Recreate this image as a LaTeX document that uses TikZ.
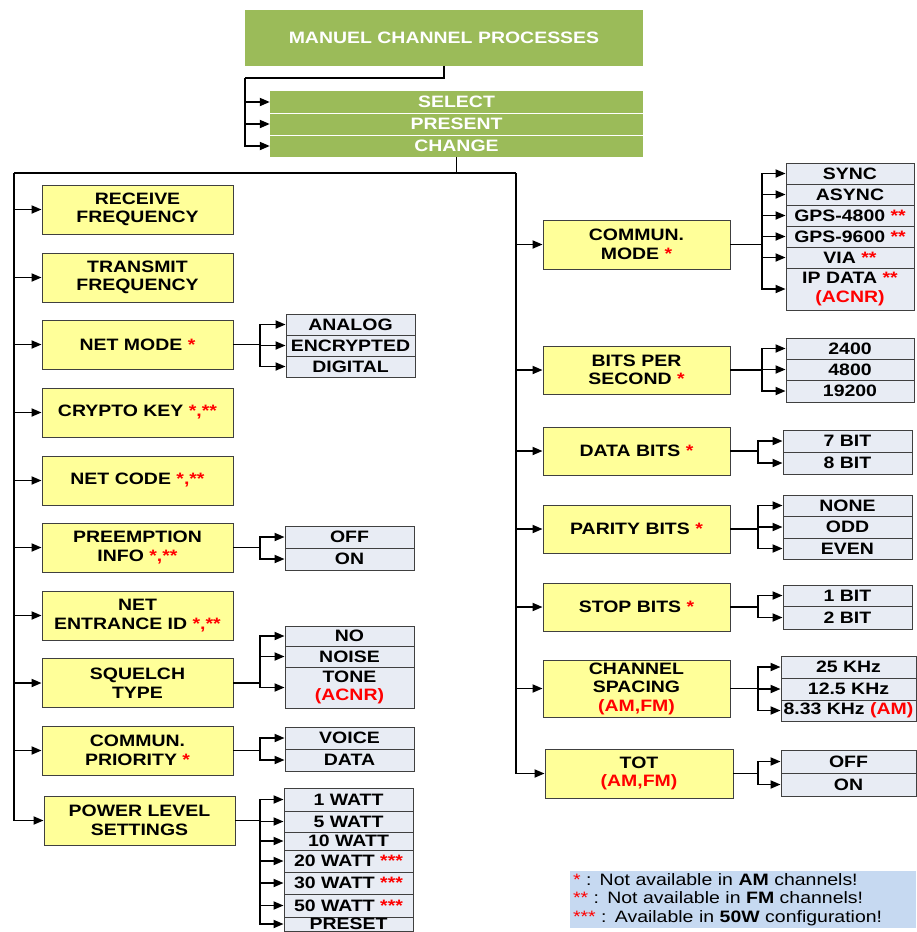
\documentclass[tikz,border=0pt]{standalone}
\usepackage{fontspec}
\setmainfont[FakeStretch=1.18]{Liberation Sans}
\usetikzlibrary{arrows.meta}
\definecolor{gr}{HTML}{9BBB59}
\definecolor{yl}{HTML}{FFFF99}
\definecolor{op}{HTML}{E8ECF4}
\definecolor{bd}{HTML}{404040}
\definecolor{lgd}{HTML}{C6D9F1}
\definecolor{rdc}{HTML}{FF0000}
\newcommand\rd[1]{\textcolor{rdc}{#1}}
\begin{document}
\begin{tikzpicture}[x=1pt,y=-1pt,
  every node/.style={font=\fontsize{16.5}{18.5}\selectfont\bfseries, inner sep=0pt, align=center},
  gbox/.style={fill=gr, text=white, minimum width=373pt, minimum height=22pt},
  gsep/.style={draw=white, line width=1pt},
  ybox/.style={draw=bd, fill=yl, line width=0.9pt, minimum height=49pt},
  yL/.style={ybox, minimum width=191pt},
  yR/.style={ybox, minimum width=187pt},
  obox/.style={draw=bd, fill=op, line width=0.9pt, minimum height=21pt},
  oL/.style={obox, minimum width=129pt},
  oR/.style={obox, minimum width=128pt},
  oS/.style={obox, minimum width=135pt},
  line/.style={draw=black, line width=1.8pt},
  arr/.style={line, -{Triangle[length=10pt,width=8pt]}},
  legend/.style={fill=lgd, font=\fontsize{16.5}{18.5}\selectfont\mdseries, align=left, text width=340pt, inner xsep=3pt, minimum height=57pt},
]
\useasboundingbox (0,0) rectangle (916,932);

% title and green bars
\node[fill=gr, text=white, minimum width=398pt, minimum height=56pt] (title) at (444,38) {MANUEL CHANNEL PROCESSES};
\node[gbox] (select) at (456.5,102) {SELECT};
\node[gbox] (present) at (456.5,124) {PRESENT};
\node[gbox] (change) at (456.5,146) {CHANGE};
\draw[gsep] (select.south west) -- (select.south east);
\draw[gsep] (present.south west) -- (present.south east);

\coordinate (tb) at (245,78);
\draw[line] (title.south) |- (tb);
\draw[arr] (tb) |- (select.west);
\draw[arr] (tb) |- (present.west);
\draw[arr] (tb) |- (change.west);

% trunks
\coordinate (tl) at (14,173);
\coordinate (tr) at (516,173);
\draw[line] (change.south) -- (change.south |- tl);
\draw[line] (tl) -- (tr);

% left yellow boxes
\node[yL] (rf) at (137.5,209.5) {RECEIVE\\FREQUENCY};
\node[yL] (tf) at (137.5,277.5) {TRANSMIT\\FREQUENCY};
\node[yL] (nm) at (137.5,344.5) {NET MODE \rd{*}};
\node[yL] (ck) at (137.5,412.5) {CRYPTO KEY \rd{*,**}};
\node[yL] (nc) at (137.5,480.5) {NET CODE \rd{*,**}};
\node[yL] (pi) at (137.5,547.5) {PREEMPTION\\INFO \rd{*,**}};
\node[yL] (ne) at (137.5,615.5) {NET\\ENTRANCE ID \rd{*,**}};
\node[yL] (sq) at (137.5,683) {SQUELCH\\TYPE};
\node[yL] (cp) at (137.5,750.5) {COMMUN.\\PRIORITY \rd{*}};
\node[yL] (pl) at (139.5,820.5) {POWER LEVEL\\SETTINGS};

\foreach \n in {rf,tf,nm,ck,nc,pi,ne,sq,cp} \draw[arr] (tl |- \n.west) -- (\n.west);
\draw[arr] (tl) |- (pl.west);

% left options
\coordinate (bxL) at (260,0);
\node[oL] (analog) at (350.5,324.5) {ANALOG};
\node[oL] (encr) at (350.5,345.5) {ENCRYPTED};
\node[oL] (digital) at (350.5,366.5) {DIGITAL};
\draw[line] (nm.east) -- (nm.east -| bxL);
\foreach \n in {analog,encr,digital} \draw[arr] (nm.east -| bxL) |- (\n.west);

\node[oL, minimum height=22pt] (pioff) at (349.5,537) {OFF};
\node[oL, minimum height=22pt] (pion) at (349.5,559) {ON};
\draw[line] (pi.east) -- (pi.east -| bxL);
\foreach \n in {pioff,pion} \draw[arr] (pi.east -| bxL) |- (\n.west);

\node[oL, minimum height=20pt] (sqno) at (349.5,636) {NO};
\node[oL] (sqnoise) at (349.5,656.5) {NOISE};
\node[oL, minimum height=41pt] (sqtone) at (349.5,687.5) {TONE\\\rd{(ACNR)}};
\draw[line] (sq.east) -- (sq.east -| bxL);
\draw[arr] (sq.east -| bxL) |- (sqno.west);
\draw[arr] (sq.east -| bxL) |- (sqnoise.west);
\draw[arr] (sq.east -| bxL) |- (sqtone.west);

\node[oL, minimum height=22pt] (voice) at (349.5,738) {VOICE};
\node[oL, minimum height=22pt] (data) at (349.5,760) {DATA};
\draw[line] (cp.east) -- (cp.east -| bxL);
\foreach \n in {voice,data} \draw[arr] (cp.east -| bxL) |- (\n.west);

\node[oL, minimum height=23pt] (w1) at (348.5,799.5) {1 WATT};
\node[oL, minimum height=21pt] (w5) at (348.5,821.5) {5 WATT};
\node[oL, minimum height=18pt] (w10) at (348.5,841) {10 WATT};
\node[oL, minimum height=22pt] (w20) at (348.5,861) {20 WATT \rd{***}};
\node[oL, minimum height=22pt] (w30) at (348.5,883) {30 WATT \rd{***}};
\node[oL, minimum height=23pt] (w50) at (348.5,905.5) {50 WATT \rd{***}};
\node[oL, minimum height=14pt] (preset) at (348.5,924) {PRESET};
\draw[line] (pl.east) -- (pl.east -| bxL);
\foreach \n in {w1,w5,w10,w20,w30,w50,preset} \draw[arr] (pl.east -| bxL) |- (\n.west);

% right yellow boxes
\node[yR] (cm) at (636.5,244.5) {COMMUN.\\MODE \rd{*}};
\node[yR, minimum height=48pt] (bps) at (636.5,370) {BITS PER\\SECOND \rd{*}};
\node[yR, minimum height=48pt] (db) at (636.5,451) {DATA BITS \rd{*}};
\node[yR, minimum height=48pt] (pb) at (636.5,529) {PARITY BITS \rd{*}};
\node[yR, minimum height=48pt] (sb) at (636.5,607) {STOP BITS \rd{*}};
\node[yR, minimum height=57pt] (cs) at (636.5,688.5) {CHANNEL\\SPACING\\\rd{(AM,FM)}};
\node[yR, minimum width=188pt] (tot) at (639,773.5) {TOT\\\rd{(AM,FM)}};

\foreach \n in {cm,bps,db,pb,sb,cs} \draw[arr] (tr |- \n.west) -- (\n.west);
\draw[arr] (tr) |- (tot.west);

% right options
\coordinate (bxR) at (762,0);
\coordinate (bxS) at (758,0);
\node[oR] (sync) at (850,173.5) {SYNC};
\node[oR] (async) at (850,194.5) {ASYNC};
\node[oR] (g48) at (850,215.5) {GPS-4800 \rd{**}};
\node[oR] (g96) at (850,236.5) {GPS-9600 \rd{**}};
\node[oR] (via) at (850,257.5) {VIA \rd{**}};
\node[oR, minimum height=42pt] (ipd) at (850,289) {IP DATA \rd{**}\\\rd{(ACNR)}};
\draw[line] (cm.east) -- (cm.east -| bxR);
\foreach \n in {sync,async,g48,g96,via,ipd} \draw[arr] (cm.east -| bxR) |- (\n.west);

\node[oR] (b24) at (850,348.5) {2400};
\node[oR] (b48) at (850,369.5) {4800};
\node[oR, minimum height=22pt] (b192) at (850,391) {19200};
\draw[line] (bps.east) -- (bps.east -| bxR);
\foreach \n in {b24,b48,b192} \draw[arr] (bps.east -| bxR) |- (\n.west);

\node[oL, minimum height=22pt] (d7) at (847.5,441) {7 BIT};
\node[oL, minimum height=22pt] (d8) at (847.5,463) {8 BIT};
\draw[line] (db.east) -- (db.east -| bxS);
\foreach \n in {d7,d8} \draw[arr] (db.east -| bxS) |- (\n.west);

\node[oL] (none) at (847.5,505.5) {NONE};
\node[oL, minimum height=22pt] (odd) at (847.5,527) {ODD};
\node[oL] (even) at (847.5,548.5) {EVEN};
\draw[line] (pb.east) -- (pb.east -| bxS);
\foreach \n in {none,odd,even} \draw[arr] (pb.east -| bxS) |- (\n.west);

\node[oL] (s1) at (847.5,595.5) {1 BIT};
\node[oL, minimum height=23pt] (s2) at (847.5,617.5) {2 BIT};
\draw[line] (sb.east) -- (sb.east -| bxS);
\foreach \n in {s1,s2} \draw[arr] (sb.east -| bxS) |- (\n.west);

\node[oS, minimum height=22pt] (k25) at (848.5,667) {25 KHz};
\node[oS, minimum height=22pt] (k125) at (848.5,689) {12.5 KHz};
\node[oS] (k833) at (848.5,710.5) {8.33 KHz \rd{(AM)}};
\draw[line] (cs.east) -- (cs.east -| bxS);
\foreach \n in {k25,k125,k833} \draw[arr] (cs.east -| bxS) |- (\n.west);

\node[oS, minimum height=23pt] (toff) at (848.5,761.5) {OFF};
\node[oS, minimum height=23pt] (ton) at (848.5,784.5) {ON};
\draw[line] (tot.east) -- (tot.east -| bxS);
\foreach \n in {toff,ton} \draw[arr] (tot.east -| bxS) |- (\n.west);

% legend
\node[legend] (lg) at (743,899.5) {\rd{*} : Not available in \textbf{AM} channels!\\\rd{**} : Not available in \textbf{FM} channels!\\\rd{***} : Available in \textbf{50W} configuration!};
\end{tikzpicture}
\end{document}
